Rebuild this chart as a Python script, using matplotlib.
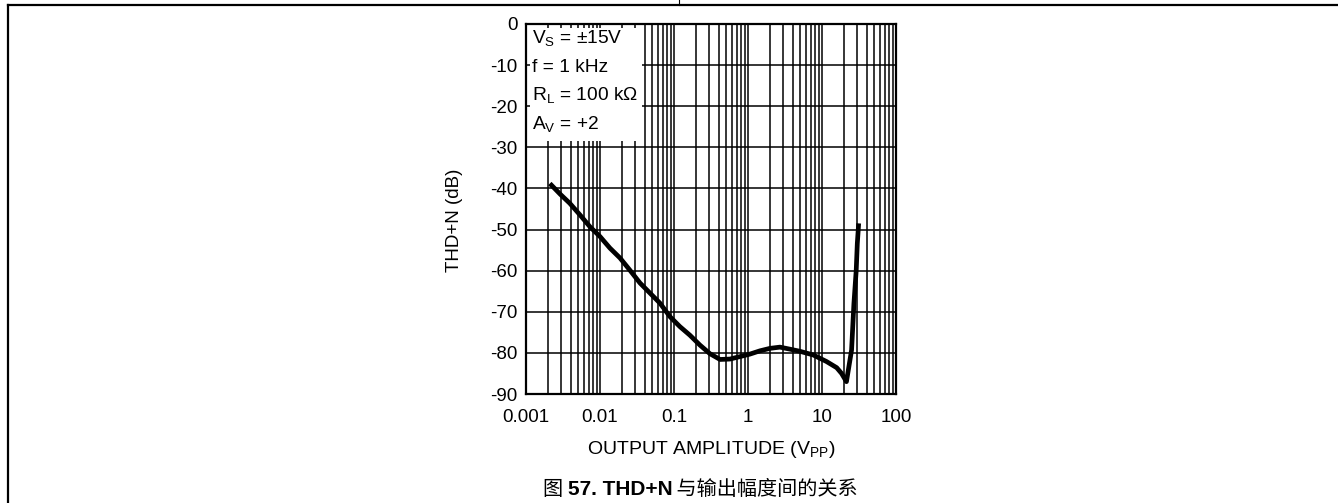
import numpy as np
import matplotlib
matplotlib.use("Agg")
import matplotlib.pyplot as plt
from matplotlib.lines import Line2D

plt.rcParams['font.family'] = ['Liberation Sans', 'DejaVu Sans']
plt.rcParams['mathtext.fontset'] = 'custom'
plt.rcParams['mathtext.rm'] = 'Liberation Sans'

# THD+N curve
amp_vpp = [0.0021, 0.0029, 0.0039, 0.0054, 0.0073, 0.010, 0.0136, 0.0186, 0.0254,
           0.0347, 0.0646, 0.0883, 0.120, 0.164, 0.224, 0.306, 0.419, 0.57,
           0.78, 1.06, 1.45, 1.98, 2.7, 3.7, 5.0, 7.6, 11.5, 15.8, 18.4, 21.4,
           25.1, 27.0, 29.0, 30.0, 31.3]
thdn_db = [-38.8, -41.4, -43.6, -46.5, -49.3, -51.7, -54.5, -56.9, -59.9,
           -63.0, -67.9, -71.2, -73.6, -75.7, -78.1, -80.2, -81.6, -81.5,
           -80.9, -80.3, -79.5, -78.9, -78.6, -79.1, -79.6, -80.5, -82.1, -83.6, -85.0, -87.0,
           -79.3, -68.0, -59.9, -53.4, -48.5]

y_ticks = [0, -10, -20, -30, -40, -50, -60, -70, -80, -90]
x_ticks = [0.001, 0.01, 0.1, 1, 10, 100]
x_tick_labels = ['0.001', '0.01', '0.1', '1', '10', '100']
cond_lines = [r'V$_\mathregular{S}$ = ±15V', 'f = 1 kHz',
              r'R$_\mathregular{L}$ = 100 kΩ', r'A$_\mathregular{V}$ = +2']

W, H = 1338, 503
fig = plt.figure(figsize=(W / 100, H / 100), dpi=100)
ax = fig.add_axes([526 / W, 1 - 394 / H, 370 / W, 370 / H])

ax.set_xscale('log')
ax.set_xlim(0.001, 100)
ax.set_ylim(-90, 0)

# grid: every decade subdivision, same weight
for dec in [0.001, 0.01, 0.1, 1, 10]:
    for m in range(1, 10):
        ax.axvline(dec * m, color='black', lw=1.1, zorder=1)
for yv in y_ticks:
    ax.axhline(yv, color='black', lw=1.1, zorder=1)

# white box behind the test conditions
ax.fill_between([0.00113, 0.037], [-28.5, -28.5], [-1, -1], color='white', lw=0, zorder=2)

ax.plot(amp_vpp, thdn_db, color='black', lw=3.4, solid_joinstyle='round',
        solid_capstyle='butt', zorder=3)

for i, s in enumerate(cond_lines):
    ax.text(0.0012, -3.5 - i * 7.0, s, fontsize=13.8, va='center', ha='left', zorder=4)

ax.set_xticks(x_ticks)
ax.set_xticklabels(x_tick_labels)
ax.xaxis.set_minor_locator(matplotlib.ticker.NullLocator())
ax.set_yticks(y_ticks)
ax.set_yticklabels([str(v) for v in y_ticks])
ax.tick_params(length=0, labelsize=13.5)
ax.tick_params(axis='x', pad=11)
ax.tick_params(axis='y', pad=6)
for sp in ax.spines.values():
    sp.set_linewidth(1.6)

ax.set_xlabel(r'OUTPUT AMPLITUDE (V$_\mathregular{PP}$)', fontsize=14, labelpad=9)
ax.set_ylabel('THD+N (dB)', fontsize=13.5)
ax.yaxis.set_label_coords(-0.17, 0.47)

# caption
cap_y = 1 - 495 / H
t1 = fig.text(543 / W, cap_y, '图 ', fontsize=14.5, family=['Noto Sans CJK SC'], va='baseline')
t2 = fig.text(0, cap_y, '57. THD+N', fontsize=15, fontweight='bold', va='baseline')
t3 = fig.text(0, cap_y, ' 与输出幅度间的关系', fontsize=14.5, family=['Noto Sans CJK SC'], va='baseline')
fig.canvas.draw()
r = fig.canvas.get_renderer()
x = t1.get_window_extent(r).x1
t2.set_x(x / W)
x = t2.get_window_extent(r).x1
t3.set_x(x / W)

# page frame lines
fig.add_artist(Line2D([8 / W, 1], [1 - 4.5 / H, 1 - 4.5 / H], color='black', lw=1.6))
fig.add_artist(Line2D([8 / W, 8 / W], [0, 1 - 4.5 / H], color='black', lw=1.6))
fig.add_artist(Line2D([679 / W, 679 / W], [1 - 4.5 / H, 1], color='black', lw=0.8))

fig.savefig('out.png', dpi=100)
